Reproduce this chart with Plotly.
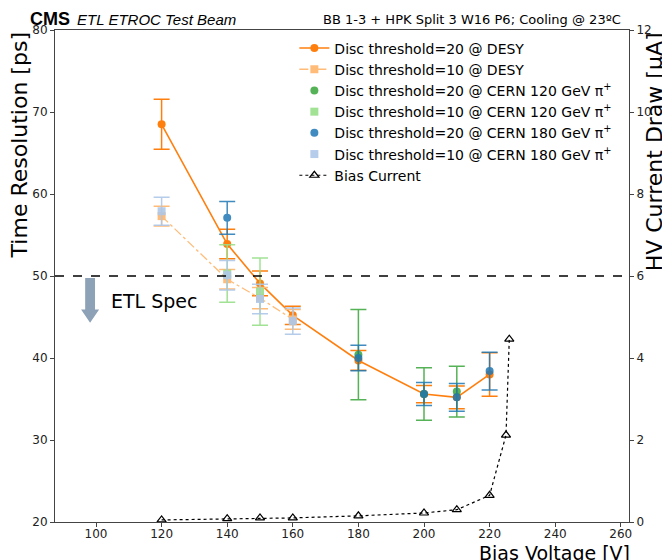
import plotly.graph_objects as go

# ---------------- data ----------------
v_desy20 = [120, 140, 150, 160, 180, 200, 210, 220]
t_desy20 = [68.5, 53.9, 49.1, 45.2, 39.7, 35.6, 35.2, 38.0]
e_desy20 = [3.05, 1.8, 1.5, 1.1, 1.2, 1.05, 1.4, 2.65]

v_desy10 = [120, 140, 150, 160]
t_desy10 = [57.3, 49.6, 47.3, 44.7]
e_desy10 = [1.2, 1.2, 1.3, 1.2]

v_c120_20 = [180, 200, 210]
t_c120_20 = [40.4, 35.6, 35.9]
e_c120_20 = [5.5, 3.2, 3.1]

v_c120_10 = [140, 150]
t_c120_10 = [50.3, 48.1]
e_c120_10 = [3.5, 4.1]

v_c180_20 = [140, 180, 200, 210, 220]
t_c180_20 = [57.1, 40.0, 35.6, 35.2, 38.4]
e_c180_20 = [2.0, 1.55, 1.4, 1.7, 2.3]

v_c180_10 = [120, 140, 150, 160]
t_c180_10 = [57.9, 50.1, 47.2, 44.5]
e_c180_10 = [1.7, 1.8, 1.8, 1.6]

v_bias = [120, 140, 150, 160, 180, 200, 210, 220, 225, 226]
i_bias = [0.05, 0.08, 0.1, 0.1, 0.15, 0.22, 0.3, 0.65, 2.12, 4.46]

spec_value = 50

x_ticks = [100, 120, 140, 160, 180, 200, 220, 240, 260]
y_ticks = [20, 30, 40, 50, 60, 70, 80]
y2_ticks = [0, 2, 4, 6, 8, 10, 12]

# ---------------- figure ----------------
FONT = "DejaVu Sans"
fig = go.Figure()


def eb(x, y, e, name, color, symbol, mode="markers", dash="solid", op=1.0, lw=1.6):
    fig.add_trace(go.Scatter(
        x=x, y=y, name=name, mode=mode,
        line=dict(color=color, width=lw, dash=dash),
        marker=dict(color=color, symbol=symbol, size=8),
        error_y=dict(type="data", array=e, visible=True, color=color,
                     thickness=1.5, width=8),
        opacity=op,
    ))


eb(v_desy20, t_desy20, e_desy20, "Disc threshold=20 @ DESY", "#ff7f0e", "circle", mode="lines+markers")
eb(v_desy10, t_desy10, e_desy10, "Disc threshold=10 @ DESY", "#ffbb78", "square", mode="lines+markers", dash="dashdot", lw=1.3)
eb(v_c120_20, t_c120_20, e_c120_20, "Disc threshold=20 @ CERN 120 GeV π<sup>+</sup>", "#2ca02c", "circle", op=0.8)
eb(v_c120_10, t_c120_10, e_c120_10, "Disc threshold=10 @ CERN 120 GeV π<sup>+</sup>", "#98df8a", "square", op=0.9)
eb(v_c180_20, t_c180_20, e_c180_20, "Disc threshold=20 @ CERN 180 GeV π<sup>+</sup>", "#1f77b4", "circle", op=0.85)
eb(v_c180_10, t_c180_10, e_c180_10, "Disc threshold=10 @ CERN 180 GeV π<sup>+</sup>", "#aec7e8", "square", op=0.9)

fig.add_trace(go.Scatter(
    x=v_bias, y=i_bias, name="Bias Current", yaxis="y2", mode="lines+markers",
    line=dict(color="black", width=1.2, dash="dot"),
    marker=dict(symbol="triangle-up-open", size=8, color="black", line=dict(width=1.2)),
))

# spec line
fig.add_shape(type="line", xref="paper", x0=0, x1=1, yref="y", y0=spec_value, y1=spec_value,
              line=dict(color="black", width=1.3, dash="dash"))

# ETL spec arrow (decoration)
ax, sw, hw = 98.2, 1.5, 2.75
fig.add_shape(type="path", xref="x", yref="y",
              path=f"M {ax-sw},49.75 L {ax+sw},49.75 L {ax+sw},45.9 L {ax+hw},45.9 L {ax},44.3 L {ax-hw},45.9 L {ax-sw},45.9 Z",
              fillcolor="#8da1b7", line=dict(width=0))

fig.add_annotation(text="ETL Spec", x=104.0, y=47.0, xref="x", yref="y", xanchor="left", yanchor="middle",
                   showarrow=False, font=dict(family=FONT, size=19, color="black"))
fig.add_annotation(text="<b>CMS</b>", xref="paper", yref="paper", x=-0.047, y=0.998, xanchor="left", yanchor="bottom",
                   showarrow=False, font=dict(family="Liberation Sans", size=18, color="black"))
fig.add_annotation(text="<i>ETL ETROC Test Beam</i>", xref="paper", yref="paper", x=0.035, y=1.0, xanchor="left", yanchor="bottom",
                   showarrow=False, font=dict(family="Liberation Sans", size=15, color="black"))
fig.add_annotation(text="BB 1-3 + HPK Split 3 W16 P6; Cooling @ 23ºC", xref="paper", yref="paper", x=0.99, y=1.003,
                   xanchor="right", yanchor="bottom", showarrow=False,
                   font=dict(family=FONT, size=13, color="black"))
fig.add_annotation(text="Time Resolution [ps]", xref="paper", yref="paper", x=-0.062, y=1.0, xanchor="center",
                   yanchor="top", textangle=-90, showarrow=False, font=dict(family=FONT, size=22, color="black"))
fig.add_annotation(text="HV Current Draw [μA]", xref="paper", yref="paper", x=1.045, y=1.0, xanchor="center",
                   yanchor="top", textangle=-90, showarrow=False, font=dict(family=FONT, size=22, color="black"))
fig.add_annotation(text="Bias Voltage [V]", xref="paper", yref="paper", x=1.005, y=-0.036, xanchor="right",
                   yanchor="top", showarrow=False, font=dict(family=FONT, size=19, color="black"))

axis_common = dict(showgrid=False, zeroline=False, showline=True, linecolor="#444", linewidth=1,
                   ticks="outside", ticklen=4, tickcolor="#444",
                   tickfont=dict(family=FONT, size=12, color="#222"))

# the page body adds an 8px margin; size/margins compensate so the plot sits as in the reference
fig.update_layout(
    width=662, height=552,
    margin=dict(l=47, r=41, t=22, b=38),
    paper_bgcolor="white", plot_bgcolor="white",
    font=dict(family=FONT, color="black"),
    xaxis=dict(range=[87.5, 262.5], tickvals=x_ticks, mirror=True, ticklabelstandoff=-3, **axis_common),
    yaxis=dict(range=[20, 80], tickvals=y_ticks, **axis_common),
    yaxis2=dict(range=[0, 12], tickvals=y2_ticks, overlaying="y", side="right", **axis_common),
    legend=dict(x=0.417, y=0.995, xanchor="left", yanchor="top", bgcolor="rgba(255,255,255,0)",
                font=dict(family=FONT, size=14, color="black"), tracegroupgap=0, itemwidth=30),
    showlegend=True,
)

fig.write_html("out.html")
